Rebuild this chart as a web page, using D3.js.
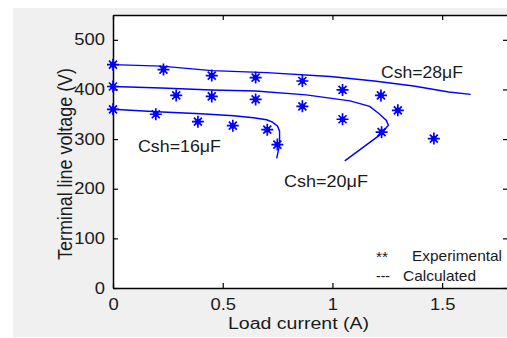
<!DOCTYPE html>
<html>
<head>
<meta charset="utf-8">
<script src="https://cdn.jsdelivr.net/npm/d3@7"></script>
<style>
  html, body { margin: 0; padding: 0; background: #fff; }
  svg { display: block; font-family: Arial, "Liberation Sans", sans-serif; }
</style>
</head>
<body>
<div id="chart"></div>
<script>
// ─── Data ──────────────────────────────────────────────────────
const xTicks = [0, 0.5, 1, 1.5];
const xTickLabels = ['0', '0.5', '1', '1.5'];
const yTicks = [0, 100, 200, 300, 400, 500];

// experimental points (stars)
const exp28X = [0, 0.23, 0.45, 0.65, 0.863, 1.046, 1.221, 1.298, 1.462];
const exp28Y = [450, 440, 428, 424, 417, 399, 388, 358, 301];
const exp20X = [0, 0.288, 0.45, 0.65, 0.863, 1.046, 1.224];
const exp20Y = [406, 388, 386, 380, 366, 340, 314];
const exp16X = [0, 0.195, 0.387, 0.546, 0.703, 0.749];
const exp16Y = [360, 350, 335, 327, 319, 289];

// calculated curves
const calc28X = [0, 0.22, 0.45, 0.7, 0.99, 1.19, 1.37, 1.53, 1.63];
const calc28Y = [450, 447, 438, 434, 426, 417, 407, 395, 390];
const calc20X = [0, 0.22, 0.45, 0.65, 0.88, 1.08, 1.17, 1.21, 1.245, 1.255, 1.221, 1.056];
const calc20Y = [406, 403, 399, 397, 389, 377, 366, 352, 338, 328, 310, 256];
const calc16X = [0, 0.2, 0.4, 0.55, 0.64, 0.7, 0.727, 0.75, 0.759, 0.759, 0.746];
const calc16Y = [360, 355, 351, 347, 343, 339, 334, 326, 316, 288, 261];

const capLabels = ['Csh=28\u03bcF', 'Csh=20\u03bcF', 'Csh=16\u03bcF'];

// ─── Layout ────────────────────────────────────────────────────
const W = 507, H = 338;
const plot = { left: 113, top: 15, right: 508, bottom: 288 };
const BLUE = '#0000ff';
const INK = '#1a1a1a';

const svg = d3.select('#chart').append('svg')
    .attr('width', W)
    .attr('height', H);

// figure background
svg.append('rect')
    .attr('x', 13).attr('y', 8)
    .attr('width', W - 13).attr('height', 329)
    .attr('fill', '#f0f0f0');

svg.append('rect')
    .attr('x', plot.left).attr('y', plot.top)
    .attr('width', plot.right - plot.left).attr('height', plot.bottom - plot.top)
    .attr('fill', '#fff');

const x = d3.scaleLinear().domain([0, 1.8]).range([plot.left, plot.right]);
const y = d3.scaleLinear().domain([0, 550]).range([plot.bottom, plot.top]);

// ─── Axes (inward ticks, boxed) ────────────────────────────────
function styleAxis(g) {
    g.selectAll('path.domain').attr('stroke', '#000').attr('stroke-width', 1.5);
    g.selectAll('.tick line').attr('stroke', '#000').attr('stroke-width', 1.2);
    g.selectAll('.tick text')
        .attr('fill', INK)
        .attr('font-size', 16)
        .attr('font-family', 'Arial, "Liberation Sans", sans-serif');
}

const gx = svg.append('g')
    .attr('transform', `translate(0,${plot.bottom})`)
    .call(d3.axisBottom(x).tickValues(xTicks)
        .tickFormat((d, i) => xTickLabels[i])
        .tickSize(-5).tickSizeOuter(0).tickPadding(11))
    .call(styleAxis);
gx.selectAll('.tick text').attr('transform', 'scale(1.15,1)');

const gy = svg.append('g')
    .attr('transform', `translate(${plot.left},0)`)
    .call(d3.axisLeft(y).tickValues(yTicks)
        .tickSize(-5).tickSizeOuter(0).tickPadding(7))
    .call(styleAxis);
gy.selectAll('.tick text').attr('transform', 'scale(1.15,1)');

svg.append('g')
    .attr('transform', `translate(0,${plot.top})`)
    .call(d3.axisTop(x).tickValues(xTicks).tickFormat('').tickSize(-5).tickSizeOuter(0))
    .call(styleAxis);

svg.append('g')
    .attr('transform', `translate(${plot.right},0)`)
    .call(d3.axisRight(y).tickValues(yTicks).tickFormat('').tickSize(-5).tickSizeOuter(0))
    .call(styleAxis);

// ─── Calculated curves ─────────────────────────────────────────
const line = d3.line().x(d => x(d[0])).y(d => y(d[1]));
[[calc28X, calc28Y], [calc20X, calc20Y], [calc16X, calc16Y]].forEach(([xs, ys]) => {
    svg.append('path')
        .datum(xs.map((v, i) => [v, ys[i]]))
        .attr('d', line)
        .attr('fill', 'none')
        .attr('stroke', BLUE)
        .attr('stroke-width', 1.4);
});

// ─── Experimental stars ────────────────────────────────────────
const starPath = 'M0,-6V6M-6,0H6M-4,-4L4,4M-4,4L4,-4';
const pts = [];
[[exp28X, exp28Y], [exp20X, exp20Y], [exp16X, exp16Y]].forEach(([xs, ys]) => {
    xs.forEach((v, i) => pts.push([v, ys[i]]));
});
const stars = svg.append('g').selectAll('g.star')
    .data(pts)
    .join('g')
    .attr('class', 'star')
    .attr('transform', d => `translate(${x(d[0])},${y(d[1])})`);
stars.append('path')
    .attr('d', starPath)
    .attr('stroke', BLUE)
    .attr('stroke-width', 1.7)
    .attr('fill', 'none');
stars.append('circle')
    .attr('r', 2.8)
    .attr('fill', BLUE);

// ─── Text ──────────────────────────────────────────────────────
function label(txt, x0, base, len, size) {
    return svg.append('text')
        .attr('x', x0).attr('y', base)
        .attr('font-size', size)
        .attr('fill', INK)
        .attr('textLength', len)
        .attr('lengthAdjust', 'spacingAndGlyphs')
        .text(txt);
}

label(capLabels[0], 381, 78, 82, 16.5);
label(capLabels[1], 284, 187, 84, 16.5);
label(capLabels[2], 138, 152, 83, 16.5);

// legend
label('**', 376, 262, 12, 15);
label('Experimental', 412, 261, 90, 15);
label('---', 376, 281, 14, 15);
label('Calculated', 403, 281, 73, 15);

// axis titles
label('Load current (A)', 228, 329, 141, 16);

svg.append('text')
    .attr('transform', 'translate(72,164) rotate(-90) scale(1,1.15)')
    .attr('text-anchor', 'middle')
    .attr('font-size', 17)
    .attr('fill', INK)
    .attr('textLength', 192)
    .attr('lengthAdjust', 'spacingAndGlyphs')
    .text('Terminal line voltage (V)');
</script>
</body>
</html>
